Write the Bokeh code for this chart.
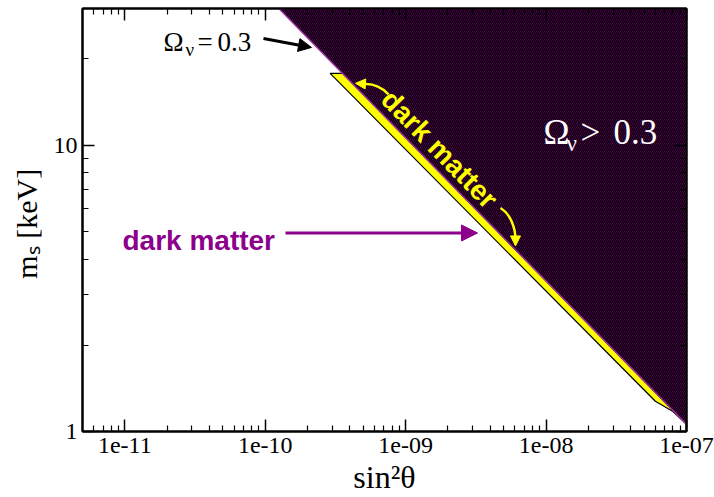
import math
from bokeh.plotting import figure
from bokeh.models import (LogAxis, FixedTicker, CustomJSTickFormatter, Label, Arrow,
                          NormalHead, Range1d)
from bokeh.embed import file_html
from bokeh.resources import INLINE

# axis extents
X_MIN, X_MAX = 5e-12, 1e-7
Y_MIN, Y_MAX = 1.0, 30.0

# Omega_nu = 0.3 contour (sin^2 theta, m_s [keV])
omega_sin2 = [1.25e-10, 1.0e-7]
omega_ms = [30.0, 1.06]

# allowed dark-matter strip just below the contour
band_sin2 = [2.9e-10, 3.56e-10, 1.0e-7, 7.9e-8, 6.0e-8]
band_ms = [17.8, 17.8, 1.06, 1.18, 1.275]

x_ticks = [1e-11, 1e-10, 1e-9, 1e-8, 1e-7]
y_ticks = [1, 10]

W, H = 714, 497
BL, BR, BT, BB = 82, 28, 8, 65
FW, FH = W - BL - BR, H - BT - BB

SERIF = "Liberation Serif"
SANS = "Liberation Sans"


def sx(px):
    lo, hi = math.log10(X_MIN), math.log10(X_MAX)
    return 10 ** (lo + (px - BL) / FW * (hi - lo))


def sy(py):
    lo, hi = math.log10(Y_MIN), math.log10(Y_MAX)
    return 10 ** (lo + (H - BB - py) / FH * (hi - lo))


def minor_between(lo, hi):
    out = []
    e = math.floor(math.log10(lo)) - 1
    while 10 ** e < hi * 10:
        for k in range(2, 10):
            v = k * 10 ** e
            if lo < v < hi:
                out.append(v)
        e += 1
    return out


x_minor = minor_between(X_MIN, X_MAX)
y_minor = minor_between(Y_MIN, Y_MAX)

p = figure(width=W, height=H, x_axis_type="log", y_axis_type="log",
           x_range=Range1d(X_MIN, X_MAX), y_range=Range1d(Y_MIN, Y_MAX),
           output_backend="svg", toolbar_location=None,
           min_border_left=BL, min_border_right=BR, min_border_top=BT,
           min_border_bottom=BB)
p.grid.visible = False
p.outline_line_color = "black"
p.outline_line_width = 2
p.background_fill_color = "white"
p.border_fill_color = "white"

xfmt = CustomJSTickFormatter(code="""
const e = Math.round(Math.log10(tick));
const a = Math.abs(e);
return '1e' + (e < 0 ? '-' : '+') + (a < 10 ? '0' + a : '' + a);
""")
yfmt = CustomJSTickFormatter(code="return '' + Math.round(tick);")


def style_axis(ax, ticks, minor, labels=True):
    ax.ticker = FixedTicker(ticks=ticks, minor_ticks=minor)
    ax.axis_line_width = 2
    ax.major_tick_in = 12
    ax.major_tick_out = 0
    ax.minor_tick_in = 6
    ax.minor_tick_out = 0
    ax.major_tick_line_width = 1.5
    ax.minor_tick_line_width = 1.2
    if labels:
        ax.major_label_text_font = SERIF
        ax.major_label_text_font_size = "24px"
        ax.major_label_text_color = "black"
        ax.axis_label_text_font = SERIF
        ax.axis_label_text_font_size = "30px"
        ax.axis_label_text_font_style = "normal"
        ax.axis_label_text_color = "black"
    else:
        ax.major_label_text_font_size = "1px"
        ax.major_label_text_alpha = 0
        ax.major_label_standoff = 0


style_axis(p.xaxis[0], x_ticks, x_minor)
p.xaxis[0].formatter = xfmt
p.xaxis[0].major_label_standoff = 6
p.xaxis[0].axis_label = "sin\u00b2\u03b8"
p.xaxis[0].axis_label_text_font_size = "32px"
p.xaxis[0].axis_label_standoff = 3
style_axis(p.yaxis[0], y_ticks, y_minor)
p.yaxis[0].formatter = yfmt
p.yaxis[0].major_label_standoff = 5
p.yaxis[0].axis_label = "m\u209b  [keV]"
p.yaxis[0].axis_label_standoff = 8

top = LogAxis()
style_axis(top, x_ticks, x_minor, labels=False)
p.add_layout(top, "above")
right = LogAxis()
style_axis(right, y_ticks, y_minor, labels=False)
p.add_layout(right, "right")

# dark-matter strip, outlined in black
p.patch(band_sin2, band_ms, fill_color="#ffff00", line_color="black", line_width=1.2)

# excluded region Omega_nu > 0.3
p.patch(omega_sin2 + [X_MAX], omega_ms + [Y_MAX], fill_color="#7a007a",
        hatch_pattern="\\", hatch_color="black", hatch_weight=1.3, hatch_scale=4,
        line_color="#a030a0", line_width=1.5)


def lab(px, py, text, size, color="black", font=SANS, style="normal", angle=0.0,
        align="left", baseline="alphabetic"):
    p.add_layout(Label(x=sx(px), y=sy(py), text=text, text_font=font,
                       text_font_size=f"{size}px", text_color=color,
                       text_font_style=style, angle=angle, text_align=align,
                       text_baseline=baseline))


# Omega_nu = 0.3 label with arrow
lab(163, 42, "\u03a9", 27, font=SERIF)
lab(185, 49, "\u03bd", 19, font=SERIF)
lab(197, 42, "=", 27, font=SERIF)
lab(217, 42, "0.3", 27, font=SERIF)
p.add_layout(Arrow(x_start=sx(263), y_start=sy(38), x_end=sx(311), y_end=sy(47),
                   line_color="black", line_width=3,
                   end=NormalHead(size=13, fill_color="black", line_color="black")))

# Omega_nu > 0.3 label
lab(543, 132, "\u03a9", 35, color="white", font=SERIF)
lab(566, 143, "\u03bd", 23, color="white", font=SERIF)
lab(580, 132, ">", 35, color="white", font=SERIF)
lab(613, 132, "0.3", 35, color="white", font=SERIF)

# purple dark matter label and arrow
lab(122, 241, "dark matter", 28, color="#8c008c", style="bold")
p.add_layout(Arrow(x_start=sx(285), y_start=sy(233), x_end=sx(477), y_end=sy(233),
                   line_color="#8c008c", line_width=3,
                   end=NormalHead(size=16, fill_color="#8c008c", line_color="#8c008c")))

# yellow label along the strip
lab(439, 149, "dark matter", 28, color="#ffff00", style="bold",
    angle=-math.atan2(417, 406), align="center", baseline="middle")

# curved yellow arrows
p.bezier(x0=[sx(388), sx(500)], y0=[sy(94), sy(208)],
         x1=[sx(362), sx(515)], y1=[sy(84), sy(240)],
         cx0=[sx(380), sx(510)], cy0=[sy(86), sy(214)],
         cx1=[sx(370), sx(515)], cy1=[sy(83), sy(228)],
         line_color="#ffff00", line_width=2.5)
p.add_layout(Arrow(x_start=sx(363), y_start=sy(83.5), x_end=sx(355), y_end=sy(83),
                   line_color="#ffff00", line_width=2,
                   end=NormalHead(size=10, fill_color="#ffff00", line_color="#ffff00")))
p.add_layout(Arrow(x_start=sx(515), y_start=sy(238), x_end=sx(515), y_end=sy(246),
                   line_color="#ffff00", line_width=2,
                   end=NormalHead(size=10, fill_color="#ffff00", line_color="#ffff00")))

open("out.html", "w").write(file_html(p, INLINE))
